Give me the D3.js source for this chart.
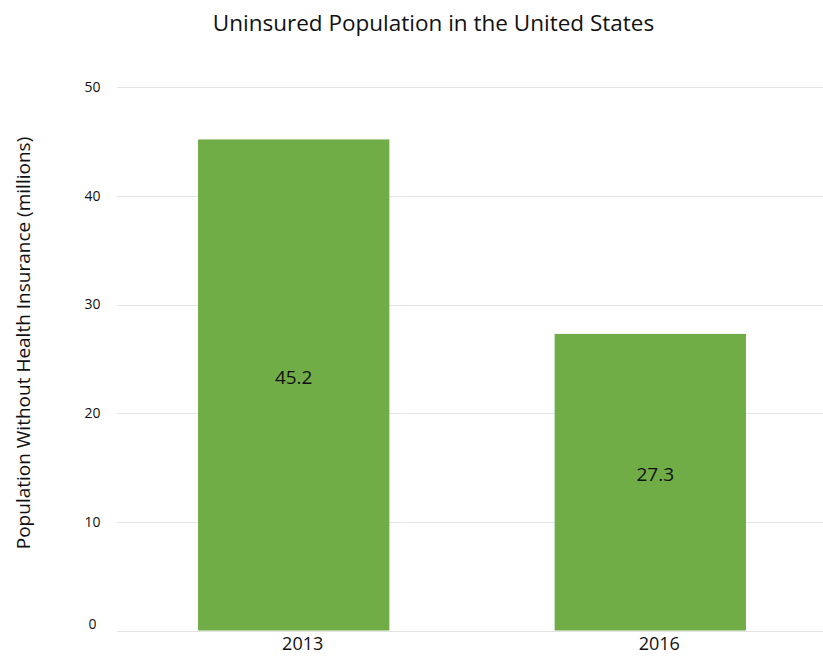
<!DOCTYPE html>
<html>
<head>
    <meta charset="utf-8">
    <script src="https://d3js.org/d3.v7.min.js"></script>
    <style>
        body { margin: 0; background: #fff; }
        text { font-family: "Open Sans", sans-serif; fill: #111; }
    </style>
</head>
<body>
<script>
var years = ["2013", "2016"];
var uninsured = [45.2, 27.3];
var yTicks = [0, 10, 20, 30, 40, 50];

var svg_w = 823, svg_h = 656;
var left = 117, top_ = 87.3, bottom = 630.5;

var svg = d3.select("body").append("svg")
    .attr("width", svg_w)
    .attr("height", svg_h);

var yscale = d3.scaleLinear().domain([0, 50]).range([bottom, top_]);
var xscale = d3.scaleBand().domain(years).range([116, 828])
    .paddingInner(0.4635).paddingOuter(0.23);

// gridlines
svg.append("g").selectAll("line")
    .data(yTicks).enter().append("line")
    .attr("x1", left).attr("x2", svg_w)
    .attr("y1", function(d){ return Math.round(yscale(d)) + 0.5; })
    .attr("y2", function(d){ return Math.round(yscale(d)) + 0.5; })
    .attr("stroke", "#e3e3e3")
    .attr("stroke-width", 1);

// y tick labels
svg.append("g").selectAll("text")
    .data(yTicks).enter().append("text")
    .attr("x", 92.5)
    .attr("y", function(d){ return yscale(d) - (d === 0 ? 6 : 0); })
    .attr("dy", "0.35em")
    .attr("text-anchor", "middle")
    .style("font-size", "14px")
    .text(function(d){ return d; });

// bars
var data = years.map(function(y, i){ return {year: y, value: uninsured[i]}; });
svg.append("g").selectAll("rect")
    .data(data).enter().append("rect")
    .attr("x", function(d){ return xscale(d.year); })
    .attr("width", xscale.bandwidth())
    .attr("y", function(d){ return yscale(d.value); })
    .attr("height", function(d){ return yscale(0) - yscale(d.value); })
    .attr("fill", "#70ad47");

// value labels
svg.append("g").selectAll("text")
    .data(data).enter().append("text")
    .attr("x", function(d, i){ return xscale(d.year) + xscale.bandwidth()/2 + (i === 1 ? 5 : 0); })
    .attr("y", function(d){ return (yscale(d.value) + yscale(0))/2 - 1; })
    .attr("text-anchor", "middle")
    .style("font-size", "19px")
    .text(function(d){ return d.value; });

// x labels
svg.append("g").selectAll("text")
    .data(years).enter().append("text")
    .attr("x", function(d){ return xscale(d) + xscale.bandwidth()/2 + 9; })
    .attr("y", 650)
    .attr("text-anchor", "middle")
    .style("font-size", "18px")
    .text(function(d){ return d; });

// title
svg.append("text")
    .attr("x", 433.5)
    .attr("y", 31)
    .attr("text-anchor", "middle")
    .style("font-size", "22.5px")
    .text("Uninsured Population in the United States");

// y axis title
svg.append("text")
    .attr("transform", "translate(30," + 343 + ") rotate(-90)")
    .attr("text-anchor", "middle")
    .style("font-size", "19px")
    .text("Population Without Health Insurance (millions)");
</script>
</body>
</html>
